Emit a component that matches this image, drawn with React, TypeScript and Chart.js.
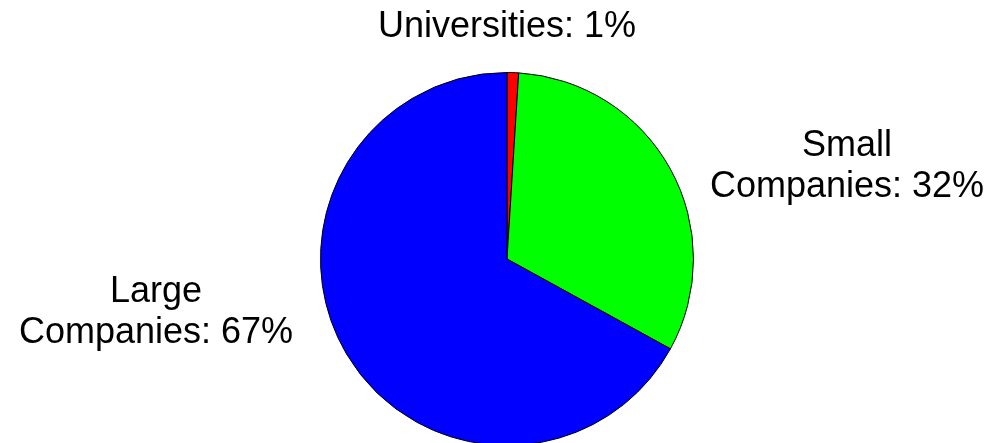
import React, { useEffect, useRef } from "react";
import { Chart, registerables } from "chart.js";

Chart.register(...registerables);

const categoryLines: string[][] = [["Universities"], ["Small", "Companies"], ["Large", "Companies"]];
const shares: number[] = [1, 32, 67];
const sliceColors: string[] = ["#FF0000", "#00FF00", "#0000FF"];

// label block placement relative to pie centre, in units of the radius (x = block centre, y = first baseline)
const labelPlacement = [
  { dx: 0, dy: -1.192 },
  { dx: 1.823, dy: -0.55 },
  { dx: -1.882, dy: 0.231 },
];

const FONT = '36px "Liberation Sans", Arial, sans-serif';
const LINE_H = 40.5;

const labelPlugin = {
  id: "pieLabels",
  afterDraw(chart: any) {
    const ctx = chart.ctx;
    const meta = chart.getDatasetMeta(0);
    ctx.save();
    ctx.font = FONT;
    ctx.fillStyle = "#000";
    ctx.textAlign = "center";
    ctx.textBaseline = "alphabetic";
    meta.data.forEach((arc: any, i: number) => {
      const { x, y, outerRadius } = arc.getProps(["x", "y", "outerRadius"], true);
      const lines = categoryLines[i].slice();
      const last = lines.length - 1;
      lines[last] = `${lines[last]}: ${shares[i]}%`;
      const p = labelPlacement[i];
      const cx = x + p.dx * outerRadius;
      const by = y + p.dy * outerRadius;
      lines.forEach((ln, j) => ctx.fillText(ln, cx, by + j * LINE_H));
    });
    ctx.restore();
  },
};

export default function App() {
  const ref = useRef<HTMLCanvasElement | null>(null);
  useEffect(() => {
    document.body.style.margin = "0";
    const chart = new Chart(ref.current!, {
      type: "pie",
      data: {
        labels: categoryLines.map((l) => l.join(" ")),
        datasets: [
          {
            data: shares,
            backgroundColor: sliceColors,
            borderColor: "#000000",
            borderWidth: 1,
          },
        ],
      },
      options: {
        responsive: false,
        animation: false,
        layout: { padding: { top: 72, bottom: 34, left: 9, right: 0 } },
        plugins: { legend: { display: false }, tooltip: { enabled: false } },
      },
      plugins: [labelPlugin],
    });
    return () => chart.destroy();
  }, []);
  return (
    <div style={{ width: 1005, height: 443, overflow: "hidden", background: "#fff" }}>
      <canvas ref={ref} width={1005} height={480} style={{ width: 1005, height: 480, display: "block" }} />
    </div>
  );
}
